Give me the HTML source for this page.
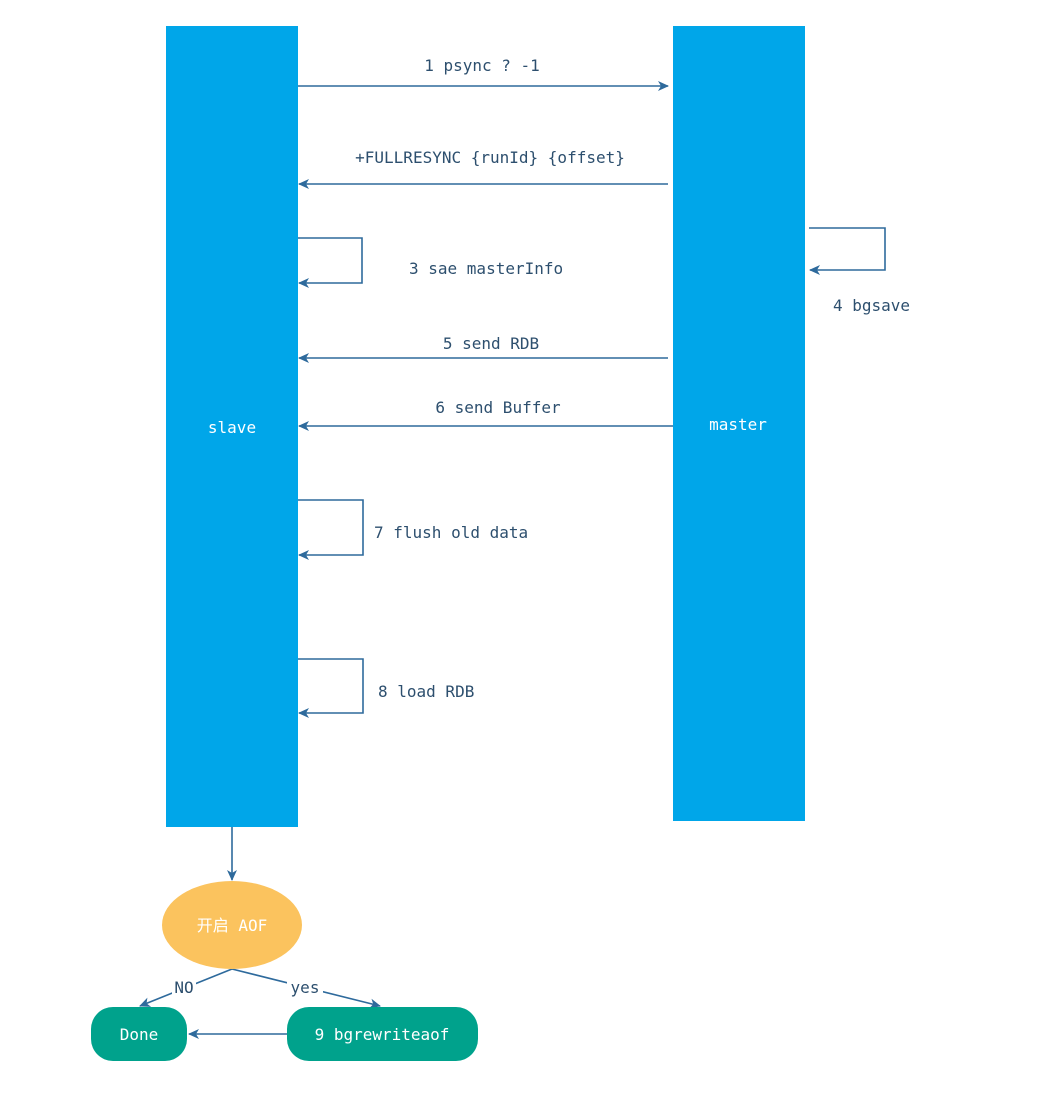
<!DOCTYPE html>
<html><head><meta charset="utf-8"><style>
html,body{margin:0;padding:0;background:#fff;}
svg{display:block;}
text{font-family:"DejaVu Sans Mono","Liberation Mono","Noto Sans CJK SC",monospace;font-size:16px;fill:#2d4f6e;}
.w{fill:#fff;}
</style></head><body>
<svg width="1047" height="1098" viewBox="0 0 1047 1098" xmlns="http://www.w3.org/2000/svg">
<defs>
<marker id="a" markerWidth="12" markerHeight="12" refX="10" refY="6" orient="auto" markerUnits="userSpaceOnUse">
<path d="M0,1 L11,6 L0,11 L3,6 Z" fill="#2e6a9c"/>
</marker>
</defs>
<rect x="166" y="26" width="132" height="801" fill="#00a6e9"/>
<rect x="673" y="26" width="132" height="795" fill="#00a6e9"/>
<text x="232" y="433" text-anchor="middle" class="w">slave</text>
<text x="738" y="430" text-anchor="middle" class="w">master</text>
<g stroke="#2e6a9c" stroke-width="1.6" fill="none" marker-end="url(#a)">
<line x1="298" y1="86" x2="668" y2="86"/>
<line x1="668" y1="184" x2="299" y2="184"/>
<polyline points="298,238 362,238 362,283 299,283"/>
<polyline points="809,228 885,228 885,270 810,270"/>
<line x1="668" y1="358" x2="299" y2="358"/>
<line x1="673" y1="426" x2="299" y2="426"/>
<polyline points="298,500 363,500 363,555 299,555"/>
<polyline points="298,659 363,659 363,713 299,713"/>
<line x1="232" y1="827" x2="232" y2="880"/>
<polyline points="232,969 140,1006"/>
<polyline points="232,969 380,1006"/>
<line x1="287" y1="1034" x2="189" y2="1034"/>
</g>
<text x="482" y="71" text-anchor="middle">1 psync ? -1</text>
<text x="490" y="163" text-anchor="middle">+FULLRESYNC {runId} {offset}</text>
<text x="409" y="274">3 sae masterInfo</text>
<text x="833" y="311">4 bgsave</text>
<text x="491" y="349" text-anchor="middle">5 send RDB</text>
<text x="498" y="413" text-anchor="middle">6 send Buffer</text>
<text x="374" y="538">7 flush old data</text>
<text x="378" y="697">8 load RDB</text>
<ellipse cx="232" cy="925" rx="70" ry="44" fill="#fbc35e"/>
<text x="232" y="931" text-anchor="middle" class="w">开启 AOF</text>
<rect x="172" y="976" width="24" height="20" fill="#fff"/>
<text x="184" y="993" text-anchor="middle">NO</text>
<rect x="287" y="978" width="36" height="20" fill="#fff"/>
<text x="305" y="993" text-anchor="middle">yes</text>
<rect x="91" y="1007" width="96" height="54" rx="22" fill="#00a28c"/>
<rect x="287" y="1007" width="191" height="54" rx="22" fill="#00a28c"/>
<text x="139" y="1040" text-anchor="middle" class="w">Done</text>
<text x="382" y="1040" text-anchor="middle" class="w">9 bgrewriteaof</text>
</svg>
</body></html>
